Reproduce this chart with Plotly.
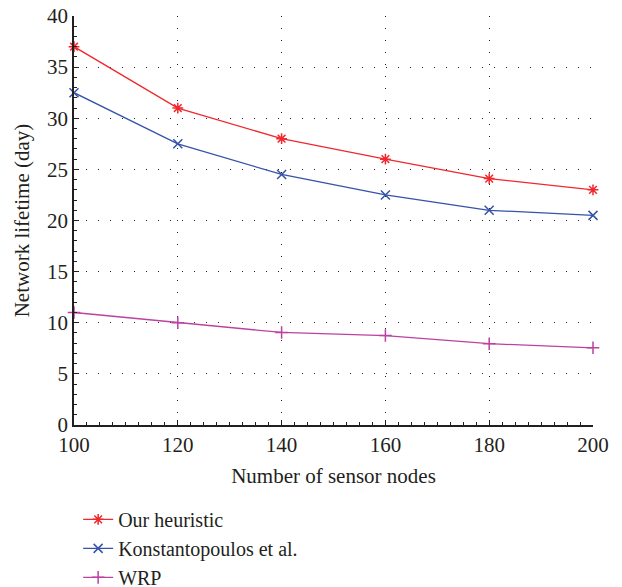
import plotly.graph_objects as go

nodes = [100, 120, 140, 160, 180, 200]
our_heuristic = [37, 31, 28, 26, 24.1, 23]
konstantopoulos = [32.5, 27.5, 24.5, 22.5, 21, 20.5]
wrp = [11, 10, 9.05, 8.75, 7.95, 7.55]

series = [
    ("Our heuristic", our_heuristic, "#f0282d", "asterisk-open"),
    ("Konstantopoulos et al.", konstantopoulos, "#3553a8", "x-thin-open"),
    ("WRP", wrp, "#bb42a0", "cross-thin-open"),
]

fig = go.Figure()
for name, vals, color, sym in series:
    fig.add_trace(go.Scatter(
        x=nodes, y=vals, name=name, mode="lines+markers",
        line=dict(color=color, width=1.3),
        marker=dict(symbol=sym, size=9, color=color, line=dict(color=color, width=1.5)),
        cliponaxis=False,
    ))

font_family = "Liberation Serif"
ink = "#231f20"
fig.update_layout(
    width=622, height=587,
    margin=dict(l=74, r=29, t=16, b=162, autoexpand=False),
    paper_bgcolor="white", plot_bgcolor="white",
    font=dict(family=font_family, size=21, color=ink),
    showlegend=True,
    legend=dict(
        x=0.008, y=-0.183, xanchor="left", yanchor="top",
        font=dict(family=font_family, size=20, color=ink),
        itemwidth=30, tracegroupgap=0, bgcolor="rgba(0,0,0,0)",
    ),
    xaxis=dict(
        range=[100, 200], tickvals=nodes, ticktext=[str(v) for v in nodes],
        automargin=False,
        showline=True, linecolor=ink, linewidth=1.5, mirror=False,
        ticks="inside", ticklen=5, tickcolor=ink,
        minor=dict(dtick=2.5, ticks="inside", ticklen=3, tickcolor=ink, showgrid=False),
        showgrid=True, gridcolor=ink, gridwidth=1, griddash="1px,11px",
        zeroline=False,
        tickfont=dict(family=font_family, size=21, color=ink),
        title=dict(text="Number of sensor nodes", font=dict(family=font_family, size=21), standoff=12),
    ),
    yaxis=dict(
        range=[0, 40], tickvals=[0, 5, 10, 15, 20, 25, 30, 35, 40],
        automargin=False,
        showline=True, linecolor=ink, linewidth=1.5, mirror=False,
        ticks="inside", ticklen=5, tickcolor=ink,
        minor=dict(dtick=1, ticks="inside", ticklen=3, tickcolor=ink, showgrid=False),
        showgrid=True, gridcolor=ink, gridwidth=1, griddash="1px,11px",
        zeroline=False,
        tickfont=dict(family=font_family, size=21, color=ink),
        title=dict(text="Network lifetime (day)", font=dict(family=font_family, size=21), standoff=12),
    ),
)

fig.write_html(
    "out.html",
    config={"displayModeBar": False},
    post_script="document.body.style.margin='0';document.body.style.overflow='hidden';",
)
